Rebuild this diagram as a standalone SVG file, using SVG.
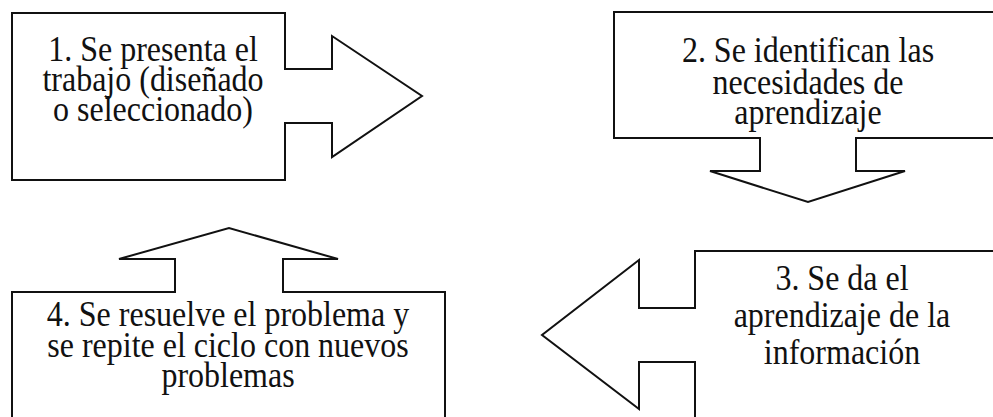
<svg xmlns="http://www.w3.org/2000/svg" width="993" height="417" viewBox="0 0 993 417">
<style>
.shape{fill:#fff;stroke:#111;stroke-width:2;stroke-linejoin:miter}
.t{font-family:"Liberation Serif","Times New Roman",serif;font-size:32px;fill:#111;text-anchor:middle}
</style>
<rect width="993" height="417" fill="#fff"/>
<g id="connectors"></g>
<g id="node1">
<path class="shape" d="M12,13 H285 V69 H332 V36 L422,96 L332,157 V123 H285 V180 H12 Z"/>
<text class="t" transform="translate(153,61) scale(1,1.13)">1. Se presenta el</text>
<text class="t" transform="translate(153,91) scale(1,1.13)">trabajo (diseñado</text>
<text class="t" transform="translate(153,121) scale(1,1.13)">o seleccionado)</text>
</g>
<g id="node2">
<path class="shape" d="M614,12 H1000 V138 H856 V171 H905 L808,202 L710,171 H760 V138 H614 Z"/>
<text class="t" transform="translate(808,62) scale(1,1.13)">2. Se identifican las</text>
<text class="t" transform="translate(808,94) scale(1,1.13)">necesidades de</text>
<text class="t" transform="translate(808,124) scale(1,1.13)">aprendizaje</text>
</g>
<g id="node3">
<path class="shape" d="M695,251 H1000 V420 H695 V362 H639 V409 L542,335 L639,260 V308 H695 Z"/>
<text class="t" transform="translate(842,290) scale(1,1.13)">3. Se da el</text>
<text class="t" transform="translate(842,327) scale(1,1.13)">aprendizaje de la</text>
<text class="t" transform="translate(842,364) scale(1,1.13)">información</text>
</g>
<g id="node4">
<path class="shape" d="M12,292 H175 V259 H119 L229,228 L338,259 H283 V292 H445 V420 H12 Z"/>
<text class="t" transform="translate(228,326) scale(1,1.13)">4. Se resuelve el problema y</text>
<text class="t" transform="translate(228,357) scale(1,1.13)">se repite el ciclo con nuevos</text>
<text class="t" transform="translate(228,387) scale(1,1.13)">problemas</text>
</g>
</svg>
